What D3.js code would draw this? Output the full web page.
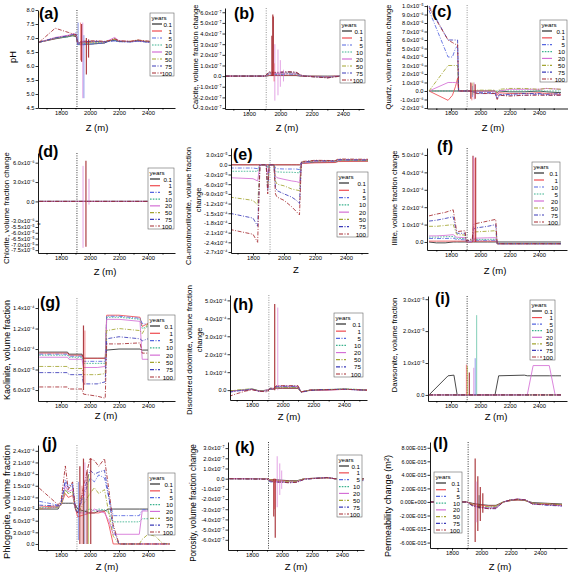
<!DOCTYPE html>
<html><head><meta charset="utf-8">
<script src="https://cdn.jsdelivr.net/npm/d3@7"></script>
<style>body{margin:0;background:#fff}svg{display:block}text{font-family:"Liberation Sans",Arial,sans-serif}</style>
</head><body><svg id="c" width="568" height="572"></svg>
<script>
// ---------------- data ----------------
const years = ["0.1","1","5","10","20","50","75","100"];
const legendLabelsF = ["0.1","1","10","5","20","50","75","100"];
const xTicks = [1800, 2000, 2200, 2400];
const xMinorTicks = [1700, 1900, 2100, 2300, 2500];
const injectionZ = 1910;

// (a) pH
const zA = [1650,1760,1850,1880,1905,1915,1940,2000,2050,2100,2130,2170,2200,2280,2330,2380,2450,2550];
const phA = [
 [6.85,6.97,7.05,7.08,7.05,6.78,6.78,6.78,6.8,6.82,6.9,6.92,6.88,6.87,6.9,6.87,6.86,6.86],
 [6.85,6.98,7.08,7.10,7.08,6.80,6.82,6.85,6.86,6.86,6.9,6.95,6.88,6.88,6.92,6.88,6.87,6.87],
 [6.85,7.00,7.05,7.10,7.20,6.75,6.75,6.78,6.80,6.82,6.88,6.90,6.87,6.86,6.88,6.86,6.85,6.86],
 [6.85,6.99,7.04,7.08,7.10,6.78,6.80,6.82,6.84,6.85,6.90,6.93,6.88,6.87,6.90,6.87,6.86,6.87],
 [6.85,7.02,7.10,7.15,7.12,6.80,6.85,6.88,6.88,6.86,6.92,7.02,6.90,6.87,6.90,6.87,6.85,6.80],
 [6.85,7.00,7.06,7.10,7.08,6.82,6.84,6.86,6.87,6.87,6.90,6.96,6.88,6.88,6.92,6.88,6.86,6.86],
 [6.85,7.00,7.08,7.12,7.10,6.80,6.86,6.88,6.88,6.86,6.88,6.90,6.87,6.86,6.90,6.86,6.85,6.85],
 [6.85,7.35,7.20,7.15,7.12,6.85,6.88,6.90,6.90,6.88,6.90,6.98,6.90,6.88,6.93,6.90,6.87,6.86]];
const spikesA = [[2,1918,6.75,7.55],[1,1935,6.2,7.55],[4,1950,4.85,7.55],[2,1958,4.85,7.1],[7,1942,6.15,7.5],[7,1975,5.7,7.0],[7,1990,6.3,6.95]];
const ticksA = [4.5,5.0,5.5,6.0,6.5,7.0,7.5,8.0];

// (b) calcite, x1e-7
const zB = [1650,1900,1910,1930,1960,2000,2050,2100,2130,2150,2250,2300,2350,2400,2550];
const calciteB = [
 [0,0,0,0.05,0.05,0.05,0.05,0.05,0,0,0,0,0,0,0],
 [0,0,0.02,0.1,0.1,0.1,0.1,0.1,0.02,0,-0.02,-0.05,0,0,0],
 [0,0,0.05,0.2,0.15,0.15,0.2,0.15,0.05,0,-0.05,-0.1,-0.02,0,0],
 [0,0,0.05,0.25,0.2,0.2,0.25,0.2,0.05,0,-0.05,-0.1,-0.03,0,0],
 [0,0,0.08,0.3,0.25,0.25,0.3,0.25,0.08,0,-0.08,-0.12,-0.03,0,0],
 [0,0,0.1,0.35,0.3,0.3,0.35,0.3,0.1,0,-0.1,-0.15,-0.05,0,0],
 [0,0,0.1,0.38,0.3,0.35,0.4,0.35,0.1,0,-0.1,-0.15,-0.05,0,0],
 [0,0,0.12,0.4,0.35,0.38,0.42,0.38,0.12,0,-0.1,-0.18,-0.06,0,0]];
const spikesB = [[7,1946,0,3.8],[7,1952,0,5.8],[7,1955,0,5.6],[4,1965,-2.3,3.0],[4,1985,-1.8,2.5],[4,2000,-1.0,1.5],[4,2020,-0.5,0.6],[1,1960,-0.5,1.2]];
const ticksB = [-3,-2,-1,0,1,2,3,4,5,6];

// (c) quartz, x1e-6
const zC = [1650,1780,1810,1830,1845,1852,1930,1980,2100,2115,2130,2200,2300,2400,2450,2550];
const quartzC = [
 [0,0,0,0,0,0,0,0,0,-0.2,0,-0.1,-0.1,0,-0.1,-0.2],
 [0,-1.1,-0.5,0.5,1.5,0,0,0,0,-0.5,-0.2,-0.3,-0.3,-0.2,-0.3,-0.4],
 [9.5,4,4,5,5.3,0,0,-0.3,-0.3,-0.9,-0.5,-0.5,-0.5,-0.4,-0.5,-0.5],
 [0,0,0,0,0,0,0,0,0,0,0,0,0,0,0,0],
 [0,1,1,1,1,0,0,0,0,-0.3,0,0.2,0.2,0.2,0.3,0.2],
 [0,3,3,3,3,0,0,0.1,0.1,-0.2,0.2,0.3,0.3,0.2,0.3,0.2],
 [10,6,6,6,6,0,0,-0.2,-0.2,-0.8,-0.4,-0.4,-0.3,-0.3,-0.4,-0.3],
 [9.8,6,5.7,5.5,5.5,0,0,-0.3,-0.3,-1.0,-0.5,-0.6,-0.5,-0.5,-0.5,-0.5]];
const spikesC = [[7,1935,-0.9,1.0],[1,1942,-1.1,0.9],[2,1946,-0.7,0.6],[5,1950,-0.5,1.0],[4,1958,-1.0,1.0],[7,1965,-0.9,0.8]];
const ticksC = [-2,-1,0,1,2,3,4,5,6,7,8,9,10];

// (d) chlorite, x1e-6
const zD = [1650,2550];
const chloriteD = [[0,0],[0,0],[0,0],[0,0],[0,0],[0,0],[0,0],[0,0]];
const spikesD = [[4,1952,-73,5.5],[7,1972,-72,6.3],[4,1993,-0.5,3.5]];
const ticksD = [-75,-70,-65,-60,-55,-3,0,3,6];

// (e) Ca-montmorillonite, x1e-5
const zE = [1650,1800,1830,1845,1885,1895,1905,1935,1945,1955,2000,2050,2080,2100,2112,2200,2330,2350,2550];
const montE = [
 [0,0,0,0,0,0,0,0,0,0,0,0,0,0,0.5,0.8,0.8,1.2,1.2],
 [0,0,0,0,0,0,0,0,0,0,0,0,0,0,0.4,0.6,0.7,1.0,1.1],
 [-1,-1,-1.2,0,0,-0.5,0,0,-1,-1.2,-1.3,-1.3,-1.3,-1.5,0.6,1,1,1.4,1.4],
 [-2,-2,-2,0,0,-1,0,0,-2,-2.2,-2.3,-2.3,-2.4,-2.5,0.5,1,1,1.3,1.3],
 [-4,-4.3,-5,0,0,-3,0,0,-3.5,-4,-4.5,-5,-5.2,-5.5,0.6,1.1,1.1,1.5,1.5],
 [-10,-11,-12.5,0,0,-6,0,0,-5,-6,-6.5,-7.5,-7.8,-8,0.8,1.2,1.2,1.5,1.4],
 [-15,-16.5,-19,0,0,-8,0,0,-7,-8,-9,-10,-11,-12,0.8,1.3,1.2,1.6,1.5],
 [-20,-21.5,-24,0,0,-9,0,0,-9,-10,-11,-13,-14.5,-15.5,1.0,1.4,1.3,1.8,1.7]];
const spikesE = [];
const ticksE = [-27,-24,-21,-18,-15,-12,-9,-6,-3,0,3];

// (f) illite, x1e-4
const zF = [1650,1700,1760,1815,1838,1845,1895,1905,1945,1955,1965,2050,2105,2115,2550];
const illiteF = [
 [0,-0.05,-0.05,0,0,0,0,0,0,0,0,0,0,0,0],
 [0.05,0.05,0.05,0.05,0.05,0.05,0.05,0,0,0.05,0.05,0.05,0.05,-0.1,-0.1],
 [0.2,0.2,0.2,0.22,0.15,0.15,0.12,0,0.02,0.1,0.1,0.1,0.1,-0.1,-0.1],
 [0.28,0.28,0.3,0.32,0.22,0.2,0.2,0.02,0.05,0.15,0.15,0.15,0.16,-0.1,-0.1],
 [0.35,0.35,0.38,0.42,0.28,0.27,0.25,0.02,0.05,0.2,0.22,0.24,0.25,-0.1,-0.1],
 [0.9,0.9,0.95,1.0,0.45,0.42,0.4,0.05,0.1,0.55,0.58,0.62,0.65,-0.1,-0.1],
 [1.2,1.25,1.35,1.45,0.55,0.5,0.5,0.05,0.15,0.75,0.8,0.9,1.0,-0.1,-0.1],
 [1.5,1.6,1.7,1.85,0.65,0.6,0.65,0.05,0.2,1.0,1.05,1.2,1.3,-0.1,-0.1]];
const spikesF = [[7,1950,0,4.95],[7,1968,0,4.85],[4,1955,0,4.9],[1,1963,0,4.8]];
const ticksF = [0,1,2,3,4,5];

// (g) kaolinite, x1e-5
const zG = [1650,1845,1855,1945,1955,2050,2105,2115,2200,2345,2360,2400,2550];
const kaolG = [
 [9.7,9.7,9.5,9.5,9.1,9.1,9.1,9.9,10.0,10.0,9.9,9.9,9.9],
 [9.6,9.6,9.4,9.4,9.1,9.1,9.1,13.3,13.3,13.1,12.2,12.5,12.5],
 [9.5,9.5,9.3,9.3,8.8,8.8,8.8,13.2,13.2,13.0,12.5,12.4,12.4],
 [9.4,9.4,9.2,9.2,8.6,8.6,8.6,13.1,13.1,12.9,12.0,12.2,12.2],
 [9.2,9.2,9.0,9.0,8.2,8.2,8.3,12.9,12.9,12.7,9.0,9.0,9.0],
 [8.3,8.3,8.1,8.1,7.5,7.5,7.6,11.8,12.0,11.8,11.5,12.5,12.5],
 [7.7,7.7,7.5,7.5,6.6,6.6,6.8,11.0,11.2,11.0,10.8,11.0,11.0],
 [6.3,6.3,6.1,6.1,5.6,5.4,5.2,10.5,10.5,10.6,9.6,9.6,9.6]];
const spikesG = [[7,1955,6.0,12.3],[1,1965,6.5,11.8]];
const ticksG = [6,8,10,12,14];

// (h) disordered dolomite, x1e-4
const zH = [1650,1700,1760,1800,1850,1900,1920,1940,1960,2000,2100,2120,2180,2250,2400,2480,2550];
const dolH = [
 [-0.05,-0.02,0,0.05,-0.05,0,0.05,0.05,0.1,0.1,0.1,-0.1,0,0,0.05,0.03,0],
 [-0.04,-0.02,0,0.04,-0.04,0,0.05,0.04,0.12,0.12,0.12,-0.1,0,0,0.04,0.03,0],
 [-0.08,-0.03,0.02,0.06,-0.05,0,0.06,0.05,0.15,0.15,0.14,-0.08,0,0.02,0.05,0.02,0],
 [-0.06,-0.02,0.03,0.08,-0.05,0,0.08,0.06,0.18,0.18,0.18,-0.1,0,0.02,0.06,0.04,0],
 [-0.1,-0.03,0.02,0.06,-0.08,0,0.1,0.08,0.22,0.22,0.2,-0.1,0,0,0.04,0.03,0],
 [-0.05,0,0.05,0.08,-0.06,-0.02,0.1,0.08,0.15,0.15,0.15,-0.1,0,0.02,0.06,0.04,0],
 [-0.12,-0.05,0,0.05,-0.08,-0.05,0.1,0.1,0.2,0.22,0.22,-0.12,-0.02,0.03,0.05,0.02,0],
 [-0.35,-0.2,-0.05,0.02,-0.06,-0.1,0.12,0.1,0.25,0.25,0.25,-0.1,0,0.02,0.05,0.02,0]];
const spikesH = [[7,1948,0,4.8],[4,1968,0,4.6]];
const ticksH = [0,1,2,3,4,5];

// (i) dawsonite, x1e-5
const zI = [1650,1780,1820,1842,1900,2100,2125,2300,2320,2360,2470,2510,2550];
const dawI = [
 [0,0.6,0.62,0,0,0,0.6,0.62,0.6,0.6,0.6,0.6,0.6],
 [0,0,0,0,0,0,0,0,0,0,0,0,0],
 [0,0,0,0,0,0,0,0,0,0,0,0,0],
 [0,0,0,0,0,0,0,0,0,0,0,0,0],
 [0,0,0,0,0,0,0,0,0,0.92,0.92,0,0],
 [0,0,0,0,0,0,0,0,0,0,0,0,0],
 [0,0,0,0,0,0,0,0,0,0,0,0,0],
 [0,0,0,0,0,0,0,0,0,0,0,0,0]];
const spikesI = [[1,1905,0,0.95],[5,1912,0,0.9],[7,1925,0,0.7],[4,1955,0,0.85],[2,1965,0,1.15],[3,1975,0,2.5]];
const ticksI = [0,1,2,3];

// (j) phlogopite, x1e-5
const zJ = [1650,1780,1800,1830,1850,1880,1900,1915,2000,2030,2060,2100,2130,2160,2200,2340,2360,2400,2450,2500,2550];
const phlogJ = [
 [9,9,10.5,10.5,10.5,10.5,10,9,8,8,8.5,8.5,9,9,9,9,9,9,9,9,9],
 [9.5,9.8,10,13,12,12.5,9,7,8,8,8,8.5,5,0,0,0,0,0,0,0,0],
 [11,10,10.5,16.5,15,15.5,9,8,17,16,17.8,17,12,7.3,7.3,7.3,8.8,8.8,8.8,8.8,8.8],
 [9.3,9.5,10,14,13,13.5,9,8,9,8.5,9,8.8,8,5.7,5.7,5.7,6.5,6.5,6.5,6.5,6.5],
 [9,9.5,10,15,13.5,14,9,8,8,9,8.5,8,6,2.5,2.5,2.5,8.5,8.5,8.5,8.5,8.5],
 [9,9.5,10,14,13,13.5,9,8,13,14.5,13,14,8,2,0,0,1.2,2.5,2,0.2,0],
 [10,9.8,10.5,16,14.5,15,9,8,19,18,18.5,19,12,4,0,0,0,0,0,0,0],
 [14.4,10.1,11,20.1,14,16,9,8,22,21.5,20,22,14,5,0,0,0,0,0,0,0]];
const spikesJ = [[2,1920,1,16],[7,1930,0,20],[1,1945,0,15],[7,1955,0,22],[3,1960,0,12],[4,1965,0,21],[7,1980,0,19],[5,1990,0,18],[7,2005,0,22]];
const ticksJ = [0,3,6,9,12,15,18,21,24];

// (k) porosity, x1e-7
const zK = [1650,1900,1920,1950,2000,2050,2100,2150,2250,2300,2350,2450,2550];
const porK = [
 [0,0,-0.1,-0.1,-0.15,-0.2,-0.2,0,0.05,0.1,0,0,0],
 [0,0,-0.1,-0.15,-0.2,-0.25,-0.25,0,0.05,0.1,0,-0.05,-0.05],
 [0,0,-0.2,-0.3,-0.3,-0.35,-0.3,-0.05,0.08,0.12,0,-0.1,-0.2],
 [0,0,-0.15,-0.2,-0.25,-0.3,-0.25,0,0.05,0.1,0,-0.05,-0.1],
 [0,0,-0.15,-0.25,-0.3,-0.3,-0.3,0,0.05,0.1,0,-0.05,-0.1],
 [0,0,-0.1,-0.2,-0.25,-0.3,-0.25,0,0.05,0.1,0,-0.05,-0.1],
 [0,-0.05,-0.3,-0.35,-0.35,-0.4,-0.35,-0.05,0.05,0.12,0,-0.1,-0.2],
 [0,-0.05,-0.2,-0.3,-0.35,-0.4,-0.35,-0.05,0.05,0.1,0,-0.1,-0.15]];
const spikesK = [[7,1945,-3.7,0],[1,1950,-3.0,0],[7,1955,-5.8,0],[4,1968,-2.8,2.2],[4,1985,-1.6,1.5],[4,1998,-1.0,0.8]];
const ticksK = [-6,-5,-4,-3,-2,-1,0,1,2,3];

// (l) permeability, x1e-15
const zL = [1650,1900,1940,2000,2050,2100,2150,2200,2250,2300,2350,2450,2550];
const permL = [
 [0,0,-0.2,-0.4,-0.5,-0.5,0,0.2,0.3,0.2,-0.1,-0.2,-0.3],
 [0,0,-0.3,-0.5,-0.6,-0.6,0,0.2,0.3,0.2,-0.2,-0.3,-0.4],
 [0,0,-0.5,-0.8,-0.9,-0.8,0,0.3,0.4,0.3,-0.3,-0.4,-0.5],
 [0,0,-0.4,-0.7,-0.8,-0.7,0,0.25,0.35,0.25,-0.25,-0.35,-0.45],
 [0,0,-0.5,-0.8,-0.9,-0.9,0,0.3,0.45,0.3,-0.3,-0.4,-0.6],
 [0,0,-0.4,-0.6,-0.7,-0.6,0,0.3,0.4,0.2,-0.2,-0.3,-0.4],
 [0,0,-0.6,-0.9,-1.0,-1.0,0,0.3,0.4,0.3,-0.3,-0.5,-0.6],
 [0,0,-0.5,-0.8,-1.0,-0.9,0,0.3,0.4,0.3,-0.3,-0.4,-0.5]];
const spikesL = [[7,1958,-5.9,6.4],[4,1965,-3,3],[7,1976,-4.3,3.8],[0,1985,-1,1],[7,1993,-2.8,2.2],[7,2010,-1.6,1.3]];
const ticksL = [-6,-4,-2,0,2,4,6,8];

// ---------------- styling ----------------
const colors = ["#2b2b2b","#ee4a4f","#5566e0","#3cb38f","#d46fd6","#a3a531","#3b3bb8","#a52a30"];
const dashes = [null,null,"4,1.5,1,1.5","1.6,1.2",null,"4,1.5,1,1.5","4,1.5,1,1.5","4,1.5,1,1.5"];

const panels = [
 {id:"(a)",z:zA,vals:phA,spikes:spikesA,ticks:ticksA,unit:1,fmt:"fix",yDom:[4.5,8.0],leg:years,yLabel:["pH"],xLabel:"Z (m)"},
 {id:"(b)",z:zB,vals:calciteB,spikes:spikesB,ticks:ticksB,unit:1e-7,fmt:"sci",yDom:[-3.09,6.4],leg:years,yLabel:["Calcite, volume fraction change"],xLabel:"Z (m)"},
 {id:"(c)",z:zC,vals:quartzC,spikes:spikesC,ticks:ticksC,unit:1e-6,fmt:"sci",yDom:[-2.06,10.12],leg:years,yLabel:["Quartz, volume fraction change"],xLabel:"Z (m)"},
 {id:"(d)",z:zD,vals:chloriteD,spikes:spikesD,ticks:ticksD,unit:1e-6,fmt:"sci",yDom:[-77.5,-55,-3.5,7.5],leg:years,yLabel:["Chlorite, volume fraction change"],xLabel:"Z (m)"},
 {id:"(e)",z:zE,vals:montE,spikes:spikesE,ticks:ticksE,unit:1e-5,fmt:"sci",yDom:[-27.3,5.2],leg:years,yLabel:["Ca-montmorillonite, volume fraction","change"],xLabel:"Z"},
 {id:"(f)",z:zF,vals:illiteF,spikes:spikesF,ticks:ticksF,unit:1e-4,fmt:"sci",yDom:[-0.46,5.4],leg:legendLabelsF,yLabel:["Illite, volume fraction change"],xLabel:"Z (m)"},
 {id:"(g)",z:zG,vals:kaolG,spikes:spikesG,ticks:ticksG,unit:1e-5,fmt:"sci",yDom:[4.93,14.98],leg:years,yLabel:["Kaolinite, volume fraction"],xLabel:"Z (m)"},
 {id:"(h)",z:zH,vals:dolH,spikes:spikesH,ticks:ticksH,unit:1e-4,fmt:"sci",yDom:[-0.55,5.3],leg:years,yLabel:["Disordered dolomite, volume fraction","change"],xLabel:"Z (m)"},
 {id:"(i)",z:zI,vals:dawI,spikes:spikesI,ticks:ticksI,unit:1e-5,fmt:"sci",yDom:[-0.19,3.1],leg:years,yLabel:["Dawsonite, volume fraction"],xLabel:"Z (m)"},
 {id:"(j)",z:zJ,vals:phlogJ,spikes:spikesJ,ticks:ticksJ,unit:1e-5,fmt:"sci",yDom:[-1.55,25.5],leg:years,yLabel:["Phlogopite, volume fraction"],xLabel:"Z (m)"},
 {id:"(k)",z:zK,vals:porK,spikes:spikesK,ticks:ticksK,unit:1e-7,fmt:"sci",yDom:[-7.0,3.6],leg:years,yLabel:["Porosity, volume fraction change"],xLabel:"Z (m)"},
 {id:"(l)",z:zL,vals:permL,spikes:spikesL,ticks:ticksL,unit:1e-15,fmt:"eng",yDom:[-6.8,8.85],leg:years,yLabel:["Permeability change (m\u00B2)"],xLabel:"Z (m)"}
];

// layout: plot frame, x calibration, label / legend placement
const layout = [
 {l:38,r:175,t:10,b:108,x18:61,x24:148,lab:[39,19],leg:[150,13,24,63],xl:[97,131],yl:[[13,57,12]],ref:"#222"},
 {l:225,r:364,t:8,b:109,x18:249,x24:343,lab:[234,19],leg:[340,20,25,63],xl:[287,131],yl:[[195,57,104]],ref:"#888"},
 {l:427,r:568,t:5,b:108.5,x18:451,x24:539,lab:[432,17],leg:[540,20,27,62],xl:[493,131],yl:[[388,57,105]],ref:"#888"},
 {l:38,r:175,t:153,b:253,x18:61,x24:148,lab:[38,157],leg:[148,168,26,61],xl:[105,275],yl:[[6,208,112]],ref:"#222",yRange:[253,227,224,153]},
 {l:231,r:368,t:148,b:253,x18:253,x24:346,lab:[233,160],leg:[337,172,31,65],xl:[296,273],yl:[[188,206,112],[198,200,22]],ref:"#888"},
 {l:427,r:567,t:148,b:250,x18:451,x24:539,lab:[437,152],leg:[532,162,28,63],xl:[495,274],yl:[[394,198,90]],ref:"#222"},
 {l:38,r:175,t:298,b:401,x18:61,x24:148,lab:[40,308],leg:[148,315,27,65],xl:[106,419],yl:[[7,350,100]],ref:"#888"},
 {l:230,r:367,t:295,b:400,x18:252,x24:344,lab:[233,310],leg:[334,313,29,64],xl:[289,420],yl:[[189,350,130],[199,340,22]],ref:"#888"},
 {l:428,r:567,t:296,b:401,x18:451,x24:539,lab:[435,304],leg:[530,300,25,60],xl:[496,420],yl:[[394,345,95]],ref:"#222"},
 {l:38,r:175,t:445,b:550,x18:61,x24:148,lab:[42,449],leg:[148,473,27,62],xl:[107,570],yl:[[6,502,114]],ref:"#888"},
 {l:228,r:364,t:442,b:550,x18:252,x24:342,lab:[235,453],leg:[337,455,25,62],xl:[296,570],yl:[[193,503,118]],ref:"#222"},
 {l:430,r:567,t:442,b:548,x18:452,x24:540,lab:[433,449],leg:[434,472,28,61],xl:[500,570],yl:[[388,506,102]],ref:"#222"}
];

// ---------------- helpers ----------------
const supMap = {"-":"\u207B","0":"\u2070","1":"\u00B9","2":"\u00B2","3":"\u00B3","4":"\u2074","5":"\u2075","6":"\u2076","7":"\u2077","8":"\u2078","9":"\u2079"};
function sci(v){
  if (Math.abs(v) < 1e-30) return "0.0";
  let n = Math.floor(Math.log10(Math.abs(v)) + 1e-9);
  let m = v / Math.pow(10, n);
  if (Math.abs(+m.toFixed(1)) >= 10) { n++; m = v / Math.pow(10, n); }
  return m.toFixed(1) + "x10" + String(n).split("").map(c => supMap[c]).join("");
}
function eng(v){
  if (Math.abs(v) < 1e-30) return "0.00E+000";
  let n = Math.floor(Math.log10(Math.abs(v)) + 1e-9);
  let m = v / Math.pow(10, n);
  if (Math.abs(+m.toFixed(2)) >= 10) { n++; m = v / Math.pow(10, n); }
  return m.toFixed(2) + "E" + (n < 0 ? "-" : "+") + String(Math.abs(n)).padStart(3, "0");
}

const svg = d3.select("#c");
svg.append("rect").attr("width",568).attr("height",572).attr("fill","#fff");
const defs = svg.append("defs");
const FF = '"Liberation Sans",Arial,sans-serif';

panels.forEach((p, k) => {
  const L = layout[k];
  const g = svg.append("g");
  const xs0 = d3.scaleLinear().domain([1800, 2400]).range([L.x18, L.x24]);
  const x = d3.scaleLinear().domain([xs0.invert(L.l), xs0.invert(L.r)]).range([L.l, L.r]);
  const y = d3.scaleLinear().domain(p.yDom).range(L.yRange || [L.b, L.t]);

  defs.append("clipPath").attr("id", "clip" + k).append("rect")
    .attr("x", L.l).attr("y", L.t - 1).attr("width", L.r - L.l).attr("height", L.b - L.t + 1);
  const plot = g.append("g").attr("clip-path", `url(#clip${k})`);

  plot.append("line").attr("x1", x(injectionZ)).attr("x2", x(injectionZ))
    .attr("y1", L.t).attr("y2", L.b).attr("stroke", L.ref).attr("stroke-width", 0.9)
    .attr("stroke-dasharray", "1,1.4");

  const line = d3.line().x(d => x(d[0])).y(d => y(d[1]));
  p.vals.forEach((vs, i) => {
    plot.append("path").datum(p.z.map((z, j) => [z, vs[j]]))
      .attr("d", line).attr("fill", "none").attr("stroke", colors[i])
      .attr("stroke-width", 0.85).attr("stroke-dasharray", dashes[i]);
  });
  p.spikes.forEach(s => {
    plot.append("line").attr("x1", x(s[1])).attr("x2", x(s[1]))
      .attr("y1", y(s[2])).attr("y2", y(s[3]))
      .attr("stroke", colors[s[0]]).attr("stroke-width", s[0] === 7 ? 1.2 : 0.9)
      .attr("opacity", s[0] === 7 ? 0.9 : 0.7);
  });

  const fmt = p.fmt === "fix" ? (v => v.toFixed(1)) : p.fmt === "eng" ? (v => eng(v * p.unit)) : (v => sci(v * p.unit));
  const ya = g.append("g").attr("transform", `translate(${L.l},0)`)
    .call(d3.axisLeft(y).tickValues(p.ticks).tickFormat(fmt).tickSize(2.5).tickSizeOuter(0));
  ya.selectAll("text").attr("x", -3.5).attr("font-size", p.fmt === "eng" ? 5.4 : 5.7).attr("font-family", FF);
  const xa = g.append("g").attr("transform", `translate(0,${L.b})`)
    .call(d3.axisBottom(x).tickValues(xTicks).tickFormat(d3.format("d")).tickSize(2.5).tickSizeOuter(0));
  xa.selectAll("text").attr("y", 2.5).attr("font-size", 5.8).attr("font-family", FF);
  g.append("g").attr("transform", `translate(0,${L.b})`)
    .call(d3.axisBottom(x).tickValues(xMinorTicks).tickFormat("").tickSize(1.5).tickSizeOuter(0))
    .select(".domain").remove();
  [ya, xa].forEach(a => { a.select(".domain").attr("stroke-width", 0.9); a.selectAll(".tick line").attr("stroke-width", 0.8); });

  if (k === 3) {
    g.append("text").attr("x", L.l + 1).attr("y", y(-3.5) + 2).attr("font-size", 6)
      .attr("text-anchor", "middle").text("\u2248");
  }

  g.append("text").attr("x", L.lab[0]).attr("y", L.lab[1]).attr("font-size", 16)
    .attr("font-weight", "bold").text(p.id);

  g.append("text").attr("x", L.xl[0]).attr("y", L.xl[1]).attr("font-size", 9.5)
    .attr("text-anchor", "middle").text(p.xLabel);

  p.yLabel.forEach((txt, i) => {
    const pos = L.yl[i];
    const t = g.append("text").attr("transform", `translate(${pos[0]},${pos[1]}) rotate(-90)`)
      .attr("text-anchor", "middle").attr("dominant-baseline", "central")
      .attr("font-size", 9).text(txt);
    const len = t.node().getComputedTextLength();
    if (len > 0) {
      const fs = Math.max(7.5, Math.min(10, 9 * pos[2] / len));
      t.attr("font-size", fs);
    }
  });

  const [lx, ly, lw, lh] = L.leg;
  const lg = g.append("g");
  lg.append("rect").attr("x", lx).attr("y", ly).attr("width", lw).attr("height", lh)
    .attr("fill", "#fff").attr("stroke", "#666").attr("stroke-width", 0.6);
  lg.append("text").attr("x", lx + 1.5).attr("y", ly + 4.5).attr("dominant-baseline", "central")
    .attr("font-size", 6.2).text("years");
  const step = (lh - 14) / 7;
  p.leg.forEach((lab, i) => {
    const yy = ly + 11 + i * step;
    lg.append("line").attr("x1", lx + 2).attr("x2", lx + 12).attr("y1", yy).attr("y2", yy)
      .attr("stroke", colors[i]).attr("stroke-width", 1.2).attr("stroke-dasharray", dashes[i]);
    lg.append("text").attr("x", lx + lw - 2).attr("y", yy).attr("text-anchor", "end")
      .attr("dominant-baseline", "central").attr("font-size", 6.2).text(lab);
  });
});
</script></body></html>
